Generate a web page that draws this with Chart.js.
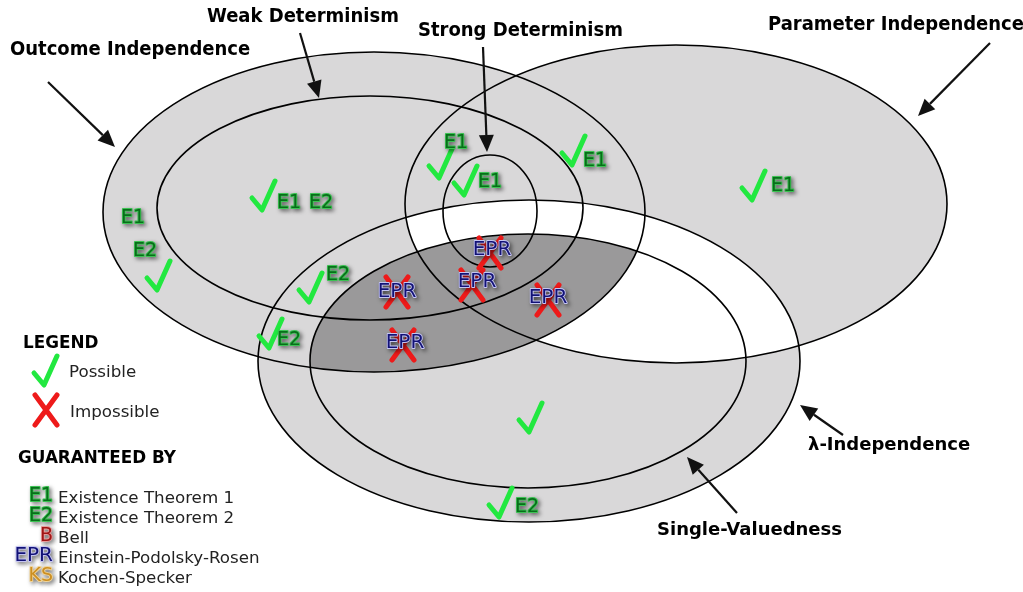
<!DOCTYPE html>
<html>
<head>
<meta charset="utf-8">
<script src="https://cdn.jsdelivr.net/npm/chart.js@4.4.0/dist/chart.umd.min.js"></script>
<style>
body { margin: 0; background: #fff; }
#chartId { display: block; }
</style>
</head>
<body>
<canvas id="chartId" width="1023" height="592"></canvas>
<script>
// diagram units: x 0..1023 left to right, y 0..592 top to bottom
var setNames = ['Outcome Independence', 'Weak Determinism', 'Strong Determinism', 'Parameter Independence', 'λ-Independence', 'Single-Valuedness'];
var setCx = [374, 370, 490, 676, 529, 528];
var setCy = [212, 208, 211, 204, 361, 361];
var setRx = [271, 213, 47, 271, 271, 218];
var setRy = [160, 112, 56, 159, 161, 127];

// where each set name sits, and the arrow from it
var nameX = [10, 207, 418, 768, 808, 657];
var nameY = [55, 22, 36, 30, 450, 535];
var arrowFromX = [48, 300, 483, 990, 843, 737];
var arrowFromY = [82, 33, 47, 43, 435, 513];
var arrowToX = [115, 319, 487, 918, 800, 687];
var arrowToY = [147, 98, 152, 116, 405, 457];

// possible / impossible marks
var possibleX = [158, 263, 310, 270, 440, 465, 573, 753, 530, 500, 45];
var possibleY = [276, 196, 288, 334, 164, 181, 151, 186, 418, 503, 371];
var impossibleX = [490, 472, 397, 548, 403, 46];
var impossibleY = [253, 285, 292, 300, 345, 410];

// theorem tags
var tagText = ['E1', 'E2', 'E1', 'E2', 'E2', 'E2', 'E1', 'E1', 'E1', 'E1', 'E2', 'EPR', 'EPR', 'EPR', 'EPR', 'EPR'];
var tagX = [133, 145, 289, 321, 338, 289, 456, 490, 595, 783, 527, 492, 477, 397, 548, 405];
var tagY = [218, 251, 203, 203, 275, 340, 143, 182, 161, 186, 507, 250, 282, 292, 298, 343];

var guaranteeCodes = ['E1', 'E2', 'B', 'EPR', 'KS'];
var guaranteeNames = ['Existence Theorem 1', 'Existence Theorem 2', 'Bell', 'Einstein-Podolsky-Rosen', 'Kochen-Specker'];
var guaranteeY = [503, 523, 543, 563, 583];

var tagStyles = {
	E1: { fill: '#086e1a', halo: '#3cc253' },
	E2: { fill: '#086e1a', halo: '#3cc253' },
	B: { fill: '#a01515', halo: '#e89a9a' },
	EPR: { fill: '#121276', halo: '#c4c4f2' },
	KS: { fill: '#cc8f22', halo: '#f0d49a' }
};

function makeMark(draw) {
	var c = document.createElement('canvas');
	c.width = 32;
	c.height = 38;
	draw(c.getContext('2d'));
	return c;
}
var checkImg = makeMark(function (g) {
	g.strokeStyle = '#22e840';
	g.lineWidth = 5;
	g.lineCap = 'round';
	g.lineJoin = 'round';
	g.beginPath();
	g.moveTo(5, 21);
	g.lineTo(15, 33);
	g.lineTo(28, 4);
	g.stroke();
});
var crossImg = makeMark(function (g) {
	g.strokeStyle = '#ee1a1a';
	g.lineWidth = 5;
	g.lineCap = 'round';
	g.beginPath();
	g.moveTo(5, 4);
	g.lineTo(27, 34);
	g.moveTo(27, 4);
	g.lineTo(5, 34);
	g.stroke();
});

function drawTag(ctx, text, x, y, align) {
	var st = tagStyles[text];
	ctx.save();
	ctx.font = (text === 'EPR' ? '20px' : '19px') + ' "DejaVu Sans"';
	ctx.textAlign = align;
	ctx.textBaseline = 'middle';
	ctx.lineJoin = 'round';
	ctx.shadowColor = 'rgba(0,0,0,0.6)';
	ctx.shadowBlur = 4;
	ctx.shadowOffsetX = 2;
	ctx.shadowOffsetY = 2;
	ctx.lineWidth = 1.8;
	ctx.strokeStyle = st.halo;
	ctx.strokeText(text, x, y);
	ctx.shadowColor = 'transparent';
	ctx.fillStyle = st.fill;
	ctx.fillText(text, x, y);
	ctx.restore();
}

var vennPlugin = {
	id: 'venn',
	beforeDatasetsDraw: function (chart) {
		var ctx = chart.ctx;
		var sx = chart.scales.x, sy = chart.scales.y;
		function path(i) {
			var cx = sx.getPixelForValue(setCx[i]);
			var cy = sy.getPixelForValue(setCy[i]);
			var rx = Math.abs(sx.getPixelForValue(setCx[i] + setRx[i]) - cx);
			var ry = Math.abs(sy.getPixelForValue(setCy[i] + setRy[i]) - cy);
			ctx.beginPath();
			ctx.ellipse(cx, cy, rx, ry, 0, 0, 2 * Math.PI);
		}
		ctx.save();
		ctx.fillStyle = '#d9d8d9';
		[0, 3, 4].forEach(function (i) { path(i); ctx.fill(); });
		// overlap of parameter independence and lambda-independence is left white
		ctx.save();
		path(3); ctx.clip();
		path(4); ctx.fillStyle = '#ffffff'; ctx.fill();
		ctx.restore();
		// single-valued and outcome independent
		ctx.save();
		path(0); ctx.clip();
		path(5); ctx.fillStyle = '#9a999a'; ctx.fill();
		ctx.restore();
		ctx.strokeStyle = '#000';
		ctx.lineWidth = 1.6;
		for (var i = 0; i < setNames.length; i++) { path(i); ctx.stroke(); }

		// arrows
		ctx.fillStyle = '#111';
		ctx.strokeStyle = '#111';
		ctx.lineWidth = 2.2;
		for (var a = 0; a < arrowFromX.length; a++) {
			var x0 = sx.getPixelForValue(arrowFromX[a]), y0 = sy.getPixelForValue(arrowFromY[a]);
			var x1 = sx.getPixelForValue(arrowToX[a]), y1 = sy.getPixelForValue(arrowToY[a]);
			var ang = Math.atan2(y1 - y0, x1 - x0);
			var hl = 17, hw = 7.5;
			var bx = x1 - hl * Math.cos(ang), by = y1 - hl * Math.sin(ang);
			ctx.beginPath();
			ctx.moveTo(x0, y0);
			ctx.lineTo(bx, by);
			ctx.stroke();
			ctx.beginPath();
			ctx.moveTo(x1, y1);
			ctx.lineTo(bx + hw * Math.sin(ang), by - hw * Math.cos(ang));
			ctx.lineTo(bx - hw * Math.sin(ang), by + hw * Math.cos(ang));
			ctx.closePath();
			ctx.fill();
		}
		ctx.restore();
	},
	afterDatasetsDraw: function (chart) {
		var ctx = chart.ctx;
		var sx = chart.scales.x, sy = chart.scales.y;
		for (var t = 0; t < tagText.length; t++) {
			drawTag(ctx, tagText[t], sx.getPixelForValue(tagX[t]), sy.getPixelForValue(tagY[t]), 'center');
		}

		ctx.save();
		ctx.fillStyle = '#000';
		ctx.textAlign = 'left';
		ctx.textBaseline = 'alphabetic';
		for (var n = 0; n < setNames.length; n++) {
			ctx.font = n < 4 ? 'bold 20px "DejaVu Sans Condensed", "DejaVu Sans"' : 'bold 18px "DejaVu Sans"';
			ctx.fillText(setNames[n], sx.getPixelForValue(nameX[n]), sy.getPixelForValue(nameY[n]));
		}
		ctx.font = 'bold 16.8px "DejaVu Sans"';
		ctx.fillText('LEGEND', sx.getPixelForValue(23), sy.getPixelForValue(348));
		ctx.fillText('GUARANTEED BY', sx.getPixelForValue(18), sy.getPixelForValue(463));
		ctx.font = '16.7px "DejaVu Sans"';
		ctx.fillStyle = '#222';
		ctx.fillText('Possible', sx.getPixelForValue(69), sy.getPixelForValue(377));
		ctx.fillText('Impossible', sx.getPixelForValue(70), sy.getPixelForValue(417));
		for (var g = 0; g < guaranteeCodes.length; g++) {
			ctx.fillText(guaranteeNames[g], sx.getPixelForValue(58), sy.getPixelForValue(guaranteeY[g]));
		}
		ctx.restore();
		for (var k = 0; k < guaranteeCodes.length; k++) {
			drawTag(ctx, guaranteeCodes[k], sx.getPixelForValue(53), sy.getPixelForValue(guaranteeY[k] - 7), 'right');
		}
	}
};

function toPoints(xs, ys) {
	return xs.map(function (x, i) { return { x: x, y: ys[i] }; });
}

var chrt = document.getElementById('chartId').getContext('2d');
var chartId = new Chart(chrt, {
	type: 'scatter',
	data: {
		datasets: [{
			label: 'Possible',
			data: toPoints(possibleX, possibleY),
			pointStyle: checkImg,
			pointRadius: 10
		}, {
			label: 'Impossible',
			data: toPoints(impossibleX, impossibleY),
			pointStyle: crossImg,
			pointRadius: 10
		}]
	},
	options: {
		responsive: false,
		animation: false,
		layout: { padding: 0, autoPadding: false },
		plugins: {
			legend: { display: false },
			tooltip: { enabled: false }
		},
		scales: {
			x: { type: 'linear', min: 0, max: 1023, display: false },
			y: { type: 'linear', min: 0, max: 592, reverse: true, display: false }
		}
	},
	plugins: [vennPlugin]
});
</script>
</body>
</html>
